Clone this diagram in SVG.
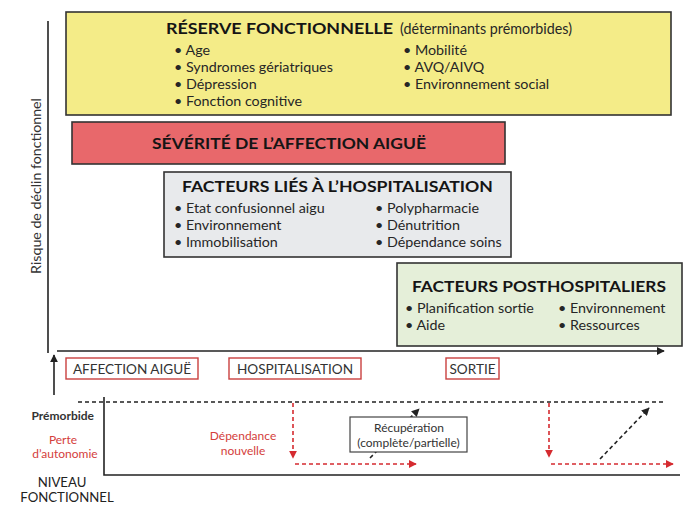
<svg xmlns="http://www.w3.org/2000/svg" width="699" height="512" viewBox="0 0 699 512">
<defs>
<style>
text{font-family:Lato,"Open Sans","Liberation Sans",sans-serif;fill:#262626}
.t{font-weight:bold;font-size:15.5px;fill:#151515}
.b{font-size:14.3px}
.lbl{font-size:13.6px;fill:#333}
.sm{font-size:12px}
.red{fill:#d4403c}
.box{stroke:#333;stroke-width:1.6}
.ev{fill:#fff;stroke:#c9403f;stroke-width:1.4}
.ax{stroke:#222;stroke-width:1.6;fill:none}
.dk{stroke:#222;stroke-width:1.6;stroke-dasharray:4 3;fill:none}
.dr{stroke:#d52b30;stroke-width:1.6;stroke-dasharray:4 3;fill:none}
</style>
<marker id="ah" viewBox="0 0 10 10" refX="9" refY="5" markerWidth="5" markerHeight="5" orient="auto"><path d="M0,0L10,5L0,10z" fill="#222"/></marker>
<marker id="ar" viewBox="0 0 10 10" refX="9" refY="5" markerWidth="5" markerHeight="5" orient="auto"><path d="M0,0L10,5L0,10z" fill="#d52b30"/></marker>
</defs>
<rect width="699" height="512" fill="#fff"/>

<g id="connectors">
<line class="ax" x1="48" y1="21" x2="48" y2="353" stroke-width="2.6"/>
<line class="ax" x1="57" y1="351" x2="664" y2="351" marker-end="url(#ah)"/>
<line class="ax" x1="54" y1="395" x2="54" y2="355" marker-end="url(#ah)"/>
<line class="dk" x1="78" y1="402" x2="665" y2="402"/>
<polyline class="ax" points="104,397 104,475 680,475"/>
<line class="dr" x1="293" y1="403" x2="293" y2="458" marker-end="url(#ar)"/>
<line class="dr" x1="295" y1="464" x2="416" y2="464" marker-end="url(#ar)"/>
<line class="dk" x1="370" y1="458" x2="419" y2="409" marker-end="url(#ah)"/>
<line class="dr" x1="549" y1="403" x2="549" y2="457" marker-end="url(#ar)"/>
<line class="dr" x1="551" y1="464" x2="673" y2="464" marker-end="url(#ar)"/>
<line class="dk" x1="600" y1="459" x2="649" y2="408" marker-end="url(#ah)"/>
</g>

<text class="lbl" transform="translate(41,186) rotate(-90)" text-anchor="middle" style="font-size:14.2px">Risque de déclin fonctionnel</text>

<g id="reserve">
<rect class="box" x="66" y="12" width="605" height="103" fill="#f4ec88"/>
<text class="t" x="166" y="34" textLength="227" lengthAdjust="spacingAndGlyphs">RÉSERVE FONCTIONNELLE</text>
<text x="400" y="34" font-size="14.5" textLength="172" lengthAdjust="spacingAndGlyphs">(déterminants prémorbides)</text>
<text class="b" x="174" y="55">• Age</text>
<text class="b" x="174" y="72">• Syndromes gériatriques</text>
<text class="b" x="174" y="89">• Dépression</text>
<text class="b" x="174" y="106">• Fonction cognitive</text>
<text class="b" x="403" y="55">• Mobilité</text>
<text class="b" x="403" y="72">• AVQ/AIVQ</text>
<text class="b" x="403" y="89">• Environnement social</text>
</g>

<g id="severite">
<rect class="box" x="72" y="122" width="433" height="42" fill="#e8686b"/>
<text class="t" x="152" y="149" textLength="274" lengthAdjust="spacingAndGlyphs">SÉVÉRITÉ DE L’AFFECTION AIGUË</text>
</g>

<g id="hospit">
<rect class="box" x="164" y="172" width="347" height="85" fill="#e8eaec"/>
<text class="t" x="182" y="192" textLength="311" lengthAdjust="spacingAndGlyphs">FACTEURS LIÉS À L’HOSPITALISATION</text>
<text class="b" x="174" y="213">• Etat confusionnel aigu</text>
<text class="b" x="174" y="230">• Environnement</text>
<text class="b" x="174" y="247">• Immobilisation</text>
<text class="b" x="375" y="213">• Polypharmacie</text>
<text class="b" x="375" y="230">• Dénutrition</text>
<text class="b" x="375" y="247">• Dépendance soins</text>
</g>

<g id="posthosp">
<rect class="box" x="397" y="263" width="285" height="83" fill="#e5efd9"/>
<text class="t" x="412" y="292" textLength="254" lengthAdjust="spacingAndGlyphs">FACTEURS POSTHOSPITALIERS</text>
<text class="b" x="405" y="313">• Planification sortie</text>
<text class="b" x="405" y="330">• Aide</text>
<text class="b" x="558" y="313">• Environnement</text>
<text class="b" x="558" y="330">• Ressources</text>
</g>

<g id="ev-affection">
<rect class="ev" x="66" y="358" width="132" height="21"/>
<text class="lbl" x="132" y="374" text-anchor="middle">AFFECTION AIGUË</text>
</g>
<g id="ev-hospit">
<rect class="ev" x="229" y="358" width="132" height="21"/>
<text class="lbl" x="295" y="374" text-anchor="middle">HOSPITALISATION</text>
</g>
<g id="ev-sortie">
<rect class="ev" x="446" y="358" width="53" height="21"/>
<text class="lbl" x="472.5" y="374" text-anchor="middle">SORTIE</text>
</g>

<g id="recuperation">
<rect x="350" y="417" width="117" height="35" fill="#fff" stroke="#444" stroke-width="1.2"/>
<text class="lbl sm" x="409" y="432" text-anchor="middle">Récupération</text>
<text class="lbl sm" x="408.5" y="447" text-anchor="middle">(complète/partielle)</text>
</g>

<g id="levels">
<text class="lbl sm" x="94" y="420" text-anchor="end" font-weight="bold">Prémorbide</text>
<text class="lbl sm red" x="63" y="444" text-anchor="middle">Perte</text>
<text class="lbl sm red" x="65" y="458" text-anchor="middle">d’autonomie</text>
<text class="lbl sm red" x="243" y="440" text-anchor="middle">Dépendance</text>
<text class="lbl sm red" x="243" y="455" text-anchor="middle">nouvelle</text>
<text class="lbl" x="62" y="487" text-anchor="middle" style="font-size:13.2px;fill:#222">NIVEAU</text>
<text class="lbl" x="67" y="502" text-anchor="middle" style="font-size:13.2px;fill:#222">FONCTIONNEL</text>
</g>
</svg>
